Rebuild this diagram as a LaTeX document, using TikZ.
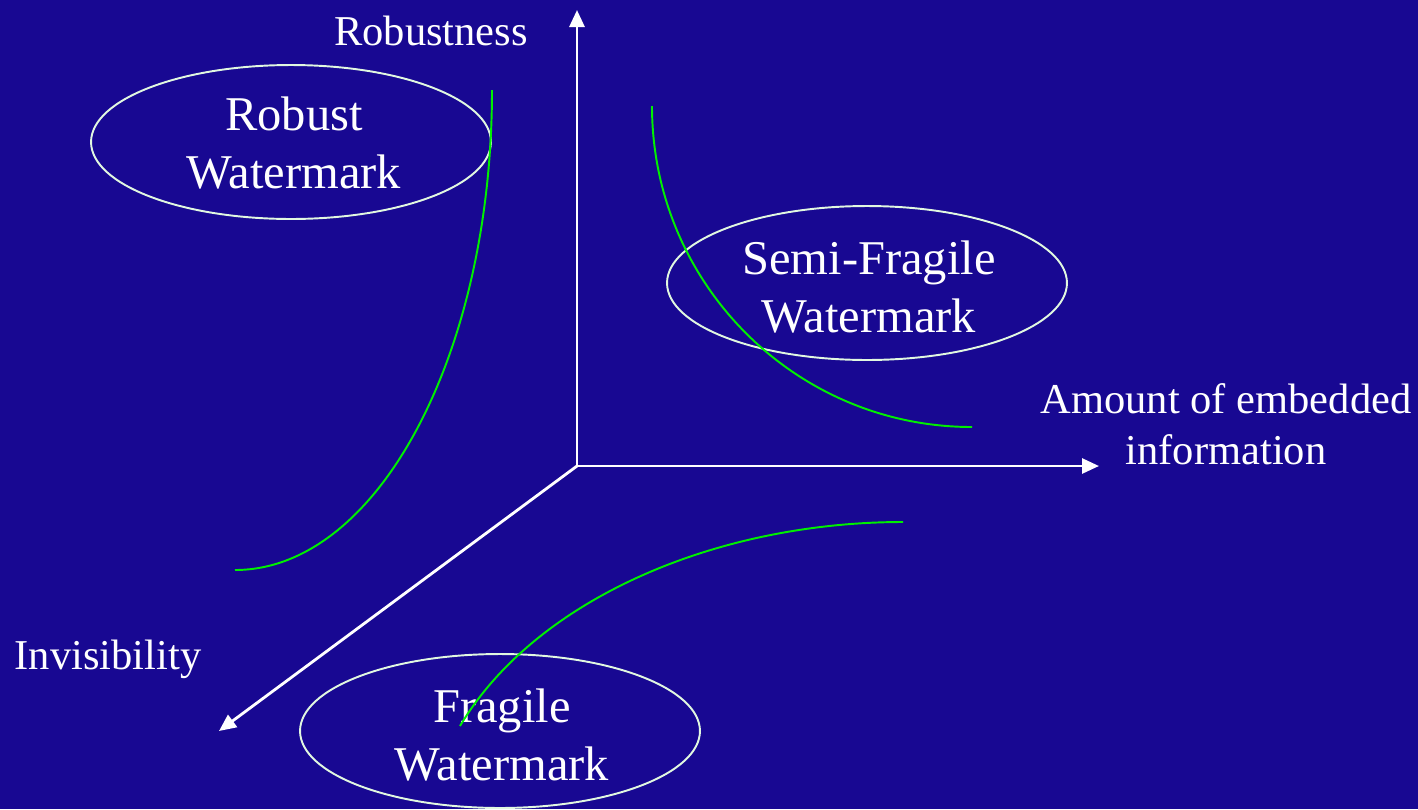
\documentclass[tikz,border=0pt]{standalone}
\usepackage{fontspec}
\setmainfont{Liberation Serif}
\usetikzlibrary{arrows.meta,shapes.geometric}
\definecolor{bg}{RGB}{24,8,146}
\definecolor{curvegreen}{RGB}{0,240,0}
\definecolor{ringc}{RGB}{225,248,225}
\tikzset{
  axis/.style={draw=white,line width=1.6pt,-{Triangle[length=0.34cm,width=0.3cm]}},
  ring/.style={draw=ringc,line width=1.1pt,ellipse,minimum width=8cm,minimum height=3.08cm,inner sep=0pt},
  bigtext/.style={text=white,font=\fontsize{27.6}{32.6}\selectfont,align=center,inner sep=0pt},
  axlabel/.style={text=white,font=\fontsize{24.2}{28.6}\selectfont,align=center,inner sep=0pt},
  gcurve/.style={draw=curvegreen,line width=1.1pt}
}
\begin{document}
\begin{tikzpicture}[x=0.02cm,y=-0.02cm]
\fill[bg] (0,0) rectangle (1418,809);
\useasboundingbox (0,0) rectangle (1418,809);
% axes
\coordinate (O) at (577,466);
\coordinate (Ytip) at (577,10);
\coordinate (Xtip) at (1099,466);
\coordinate (Ztip) at (219,731);
\draw[axis] (O) -- (Ytip);
\draw[axis] (O) -- (Xtip);
\draw[axis] (O) -- (Ztip);
% ellipses
\node[ring] (robustE) at (291,142) {};
\node[ring] (semiE) at (867,283) {};
\node[ring] (fragE) at (500,731) {};
% ellipse texts (base = baseline of last line)
\node[bigtext,anchor=base] (robustT) at (294,188) {Robust\\Watermark};
\node[bigtext,anchor=base] (semiT) at (869,332) {Semi-Fragile\\Watermark};
\node[bigtext,anchor=base] (fragT) at (502,780) {Fragile\\Watermark};
% axis labels
\node[axlabel,anchor=base] (robLab) at (431,45) {Robustness};
\node[axlabel,anchor=base] (amtLab) at (1226,464) {Amount of embedded\\information};
\node[axlabel,anchor=base] (invLab) at (108,669) {Invisibility};
% green curves
\coordinate (c1a) at (492,90);
\coordinate (c1b) at (235,570);
\draw[gcurve] (c1a) .. controls (492,355) and (377,570) .. (c1b);
\coordinate (c2a) at (652,106);
\coordinate (c2b) at (972,427);
\draw[gcurve] (c2a) .. controls (652,283) and (795,427) .. (c2b);
\coordinate (c3a) at (903,522);
\coordinate (c3b) at (460,726);
\draw[gcurve] (c3a) .. controls (715,522) and (535,600) .. (c3b);
\end{tikzpicture}
\end{document}
